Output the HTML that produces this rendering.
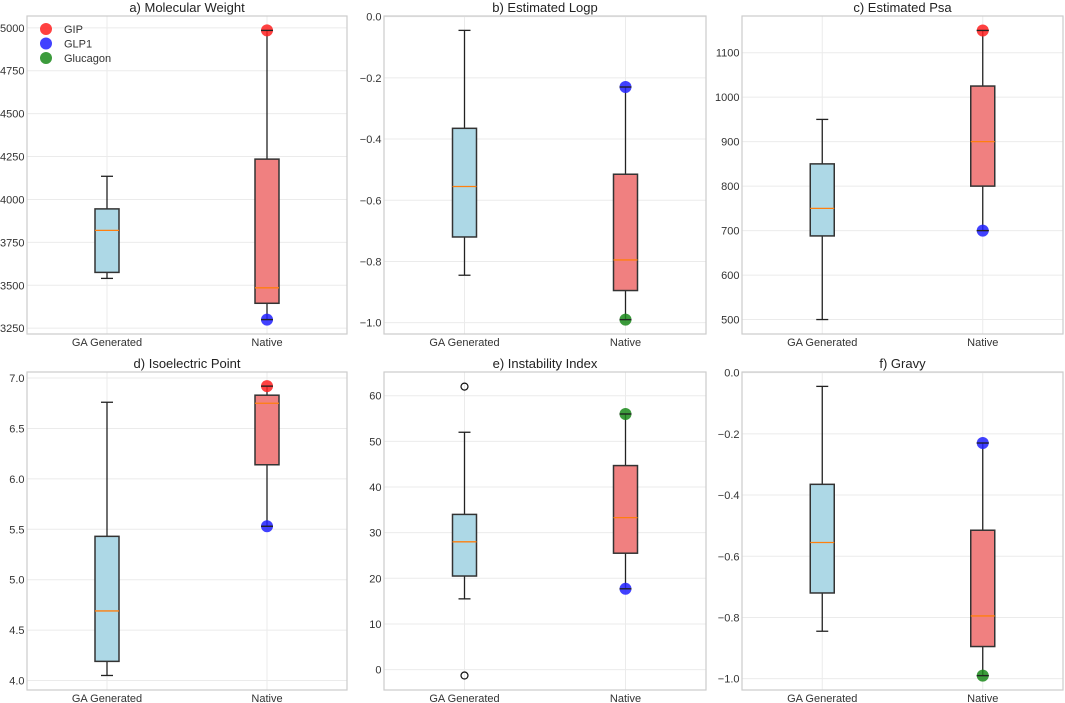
<!DOCTYPE html>
<html><head><meta charset="utf-8">
<style>
html,body{margin:0;padding:0;background:#fff;}
svg{display:block;font-family:"Liberation Sans",Arial,sans-serif;}
</style></head>
<body>
<svg id="chart" width="1065" height="703" viewBox="0 0 1065 703" xmlns="http://www.w3.org/2000/svg"></svg>
<script>
const categories = ["GA Generated", "Native"];
const titles = ["a) Molecular Weight","b) Estimated Logp","c) Estimated Psa","d) Isoelectric Point","e) Instability Index","f) Gravy"];
// [whislo, q1, median, q3, whishi]
const gaStats = [
  [3540, 3575, 3820, 3945, 4135],
  [-0.845, -0.72, -0.555, -0.365, -0.045],
  [500, 688, 750, 850, 950],
  [4.05, 4.19, 4.69, 5.43, 6.76],
  [15.5, 20.5, 28, 34, 52],
  [-0.845, -0.72, -0.555, -0.365, -0.045]
];
const nativeStats = [
  [3300, 3395, 3485, 4235, 4985],
  [-0.99, -0.895, -0.795, -0.515, -0.23],
  [700, 800, 900, 1025, 1150],
  [5.53, 6.14, 6.75, 6.83, 6.92],
  [17.7, 25.5, 33.3, 44.7, 56],
  [-0.99, -0.895, -0.795, -0.515, -0.23]
];
const gaFliers = [[], [], [], [], [62, -1.3], []];
const gipValues = [4985, null, 1150, 6.92, null, null];
const glp1Values = [3300, -0.23, 700, 5.53, 17.7, -0.23];
const glucagonValues = [null, -0.99, null, null, 56, -0.99];
const yDomains = [[3216, 5069], [-1.037, 0.002], [467.5, 1182.5], [3.906, 7.06], [-4.47, 65.2], [-1.037, 0.002]];
const yTicks = [
  [3250, 3500, 3750, 4000, 4250, 4500, 4750, 5000],
  [-1.0, -0.8, -0.6, -0.4, -0.2, 0.0],
  [500, 600, 700, 800, 900, 1000, 1100],
  [4.0, 4.5, 5.0, 5.5, 6.0, 6.5, 7.0],
  [0, 10, 20, 30, 40, 50, 60],
  [-1.0, -0.8, -0.6, -0.4, -0.2, 0.0]
];
const tickDecimals = [0, 1, 0, 1, 0, 1];
const legendLabels = ["GIP", "GLP1", "Glucagon"];

const svg = document.getElementById('chart');
const NS = 'http://www.w3.org/2000/svg';
function mk(tag, attrs, parent) {
  const e = document.createElementNS(NS, tag);
  for (const k in attrs) e.setAttribute(k, attrs[k]);
  (parent || svg).appendChild(e);
  return e;
}
const panels = [
  {x0: 27, x1: 347, y0: 16, y1: 334},
  {x0: 384, x1: 706, y0: 16, y1: 334},
  {x0: 742, x1: 1063, y0: 16, y1: 334},
  {x0: 27, x1: 347, y0: 372, y1: 690},
  {x0: 384, x1: 706, y0: 372, y1: 690},
  {x0: 742, x1: 1063, y0: 372, y1: 690}
];
const colors = {gip: "#ff2020", glp1: "#2020ff", glucagon: "#1a8a1a"};

panels.forEach((p, i) => {
  const g = mk('g', {});
  
  
  const [d0, d1] = yDomains[i];
  const y = v => p.y1 - (v - d0) / (d1 - d0) * (p.y1 - p.y0);
  const w = p.x1 - p.x0;
  const x = c => p.x0 + w * (0.25 + 0.5 * c);
  yTicks[i].forEach(t => {
    const l = mk('line', {x1: p.x0, x2: p.x1, y1: y(t), y2: y(t), stroke: '#ebebeb', 'stroke-width': 1}, g);
    
    
    const tx = mk('text', {x: p.x0 - 2.5, y: y(t) + 4, 'text-anchor': 'end', 'font-size': 11, fill: '#333'}, g);
    
    
    tx.textContent = t.toFixed(tickDecimals[i]).replace('-', '\u2212');
  });
  categories.forEach((c, ci) => {
    const l = mk('line', {x1: x(ci), x2: x(ci), y1: p.y0, y2: p.y1, stroke: '#ebebeb', 'stroke-width': 1}, g);
    
    
    const tx = mk('text', {x: x(ci), y: p.y1 + 12, 'text-anchor': 'middle', 'font-size': 11, fill: '#333'}, g);
    
    
    tx.textContent = c;
  });
  const frame = mk('rect', {x: p.x0, y: p.y0, width: w, height: p.y1 - p.y0, fill: 'none', stroke: '#cccccc', 'stroke-width': 1.2}, g);
  
  
  const title = mk('text', {x: (p.x0 + p.x1) / 2, y: p.y0 - 4, 'text-anchor': 'middle', 'font-size': 13, fill: '#222'}, g);
  
  
  title.textContent = titles[i];

  [gaStats[i], nativeStats[i]].forEach((s, ci) => {
    const cx = x(ci), bw = 24, cw = 12;
    const fill = ci === 0 ? '#add8e6' : '#f08080';
    const bg = mk('g', {}, g);
    
    
    mk('line', {x1: cx, x2: cx, y1: y(s[0]), y2: y(s[1]), stroke: '#222', 'stroke-width': 1.3}, bg);
    mk('line', {x1: cx, x2: cx, y1: y(s[3]), y2: y(s[4]), stroke: '#222', 'stroke-width': 1.3}, bg);
    mk('line', {x1: cx - cw/2, x2: cx + cw/2, y1: y(s[0]), y2: y(s[0]), stroke: '#222', 'stroke-width': 1.3}, bg);
    mk('line', {x1: cx - cw/2, x2: cx + cw/2, y1: y(s[4]), y2: y(s[4]), stroke: '#222', 'stroke-width': 1.3}, bg);
    mk('rect', {x: cx - bw/2, y: y(s[3]), width: bw, height: y(s[1]) - y(s[3]), fill: fill, stroke: '#333', 'stroke-width': 1.5}, bg);
    mk('line', {x1: cx - bw/2, x2: cx + bw/2, y1: y(s[2]), y2: y(s[2]), stroke: '#ff7f0e', 'stroke-width': 1.3}, bg);
  });
  gaFliers[i].forEach(v => {
    const c = mk('circle', {cx: x(0), cy: y(v), r: 3.5, fill: 'none', stroke: '#111', 'stroke-width': 1.2}, g);
    
    
  });
  [[gipValues, colors.gip, 'gip-point'], [glp1Values, colors.glp1, 'glp1-point'], [glucagonValues, colors.glucagon, 'glucagon-point']].forEach(([arr, col, nm]) => {
    const v = arr[i];
    if (v === null) return;
    const c = mk('circle', {cx: x(1), cy: y(v), r: 6, fill: col, 'fill-opacity': 0.85}, g);
    
    
    mk('line', {x1: x(1) - 6, x2: x(1) + 6, y1: y(v), y2: y(v), stroke: '#222', 'stroke-width': 1.3}, g);
  });
});

const lg = mk('g', {});


[colors.gip, colors.glp1, colors.glucagon].forEach((col, k) => {
  const e = mk('g', {}, lg);
  
  
  mk('circle', {cx: 46, cy: 29 + k * 14.5, r: 6, fill: col, 'fill-opacity': 0.85}, e);
  const t = mk('text', {x: 64, y: 33 + k * 14.5, 'font-size': 11, fill: '#333'}, e);
  t.textContent = legendLabels[k];
});
</script>
</body></html>
